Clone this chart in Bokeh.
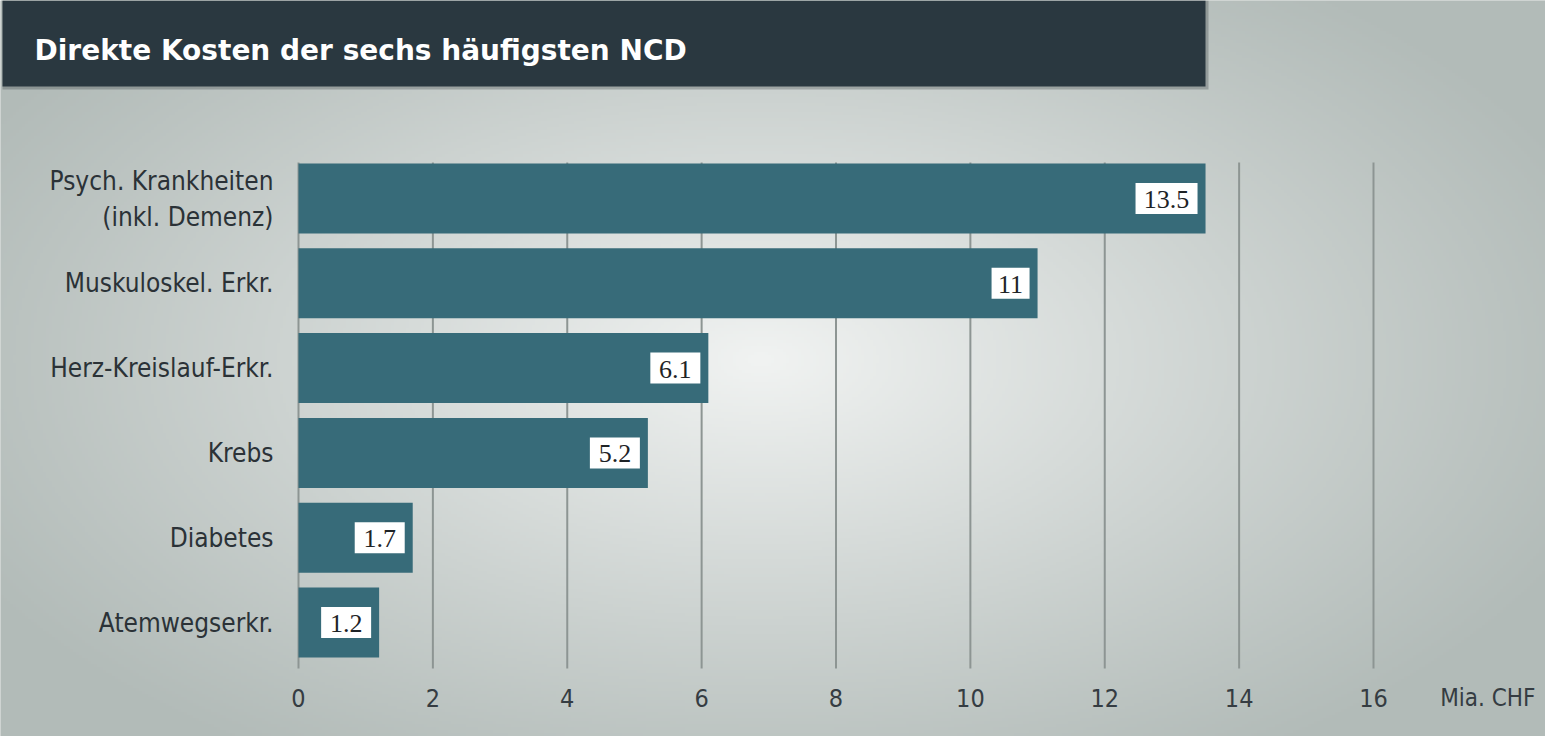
import numpy as np
from bokeh.plotting import figure
from bokeh.models import Range1d, BoxAnnotation, Label
from bokeh.core.properties import value
from bokeh.embed import file_html
from bokeh.resources import INLINE

# ---- data ----
title = "Direkte Kosten der sechs häufigsten NCD"
categories = ["Psych. Krankheiten\n(inkl. Demenz)", "Muskuloskel. Erkr.", "Herz-Kreislauf-Erkr.",
              "Krebs", "Diabetes", "Atemwegserkr."]
values = [13.5, 11, 6.1, 5.2, 1.7, 1.2]
value_labels = ["13.5", "11", "6.1", "5.2", "1.7", "1.2"]
ticks = [0, 2, 4, 6, 8, 10, 12, 14, 16]
tick_labels = [str(t) for t in ticks]
unit_label = "Mia. CHF"

# ---- layout (pixels) ----
W, H = 1545, 736
X0 = 298.0            # canvas x of value 0
PXU = 67.1875         # pixels per unit on x
ROW_BOTTOM = 622.0    # canvas y of lowest bar centre
ROW_STEP = 84.8       # pixels between bars
n = len(categories)
ypos = [n - 1 - i for i in range(n)]

def cx(px):   # canvas x -> data x
    return (px - X0) / PXU

def cy(py):   # canvas y -> data y
    return (ROW_BOTTOM - py) / ROW_STEP

x_range = Range1d(cx(0), cx(W))
y_range = Range1d(cy(H), cy(0))

p = figure(width=W, height=H, x_range=x_range, y_range=y_range,
           x_axis_type=None, y_axis_type=None, min_border=0,
           output_backend="svg", toolbar_location=None)
p.outline_line_color = None
p.grid.visible = False
p.background_fill_color = "#b3bbb8"
p.border_fill_color = "#b3bbb8"

# ---- radial gradient background ----
S = 3
gw, gh = W // S, H // S
xx = (np.arange(gw) + 0.5) * S
yy = H - (np.arange(gh) + 0.5) * S
XX, YY = np.meshgrid(xx, yy)
d = np.sqrt(((XX - 760) / 900.0) ** 2 + ((YY - 360) / 480.0) ** 2)
f = np.clip(1 - d, 0, 1) ** 1.1
edge = np.array([178, 187, 184])
center = np.array([241, 243, 242])
img = np.zeros((gh, gw), dtype=np.uint32)
view = img.view(dtype=np.uint8).reshape((gh, gw, 4))
for k in range(3):
    view[:, :, k] = (edge[k] + (center[k] - edge[k]) * f).astype(np.uint8)
view[:, :, 3] = 255
p.image_rgba(image=[img], x=cx(0), y=cy(H), dw=cx(W) - cx(0), dh=cy(0) - cy(H))

# ---- title bar ----
shadow = BoxAnnotation(left=cx(2), right=cx(1208), top=cy(0), bottom=cy(89),
                       fill_color="#1c2428", fill_alpha=0.25, line_color=None)
bar = BoxAnnotation(left=cx(2), right=cx(1205), top=cy(0), bottom=cy(86),
                    fill_color="#2a3840", fill_alpha=1.0, line_color=None)
p.add_layout(shadow)
p.add_layout(bar)
p.add_layout(Label(x=cx(34), y=cy(50), text=title, text_color="white",
                   text_font="DejaVu Sans", text_font_style="bold",
                   text_font_size="28px", text_baseline="middle"))

LABEL_FONT = "DejaVu Sans Condensed, Roboto, sans-serif"

# ---- grid lines ----
p.segment(x0=ticks, x1=ticks, y0=cy(668), y1=cy(162), line_color="#8d9593", line_width=2)

# ---- bars ----
p.hbar(y=ypos, left=0, right=values, height=70 / ROW_STEP, fill_color="#376b79", line_color=None)

# ---- value labels (white boxes + text) ----
box_w = [14 + 12 * len(s) for s in value_labels]
box_x = [v - (8 + w / 2) / PXU for v, w in zip(values, box_w)]
p.rect(x=box_x, y=ypos, width=box_w, height=31, width_units="screen", height_units="screen",
       fill_color="white", line_color=None)
p.text(x=box_x, y=ypos, text=value_labels, text_align="center", text_baseline="middle",
       y_offset=1, text_font=value("Liberation Serif"), text_font_size="26px",
       text_color="#1e2326")

# ---- category labels ----
p.text(x=0, y=ypos, text=categories, text_align="right", text_baseline="middle",
       x_offset=-25, text_font=value(LABEL_FONT), text_font_size="26px",
       text_color="#2b3237", text_line_height=1.2)

# ---- tick labels ----
p.text(x=ticks, y=cy(697), text=tick_labels, text_align="center", text_baseline="middle",
       text_font=value(LABEL_FONT), text_font_size="25px", text_color="#353c42")
p.text(x=[cx(W)], y=[cy(697)], text=[unit_label], text_align="right", text_baseline="middle",
       x_offset=-10, text_font=value(LABEL_FONT), text_font_size="24px", text_color="#353c42")

open("out.html", "w").write(file_html(p, INLINE))
